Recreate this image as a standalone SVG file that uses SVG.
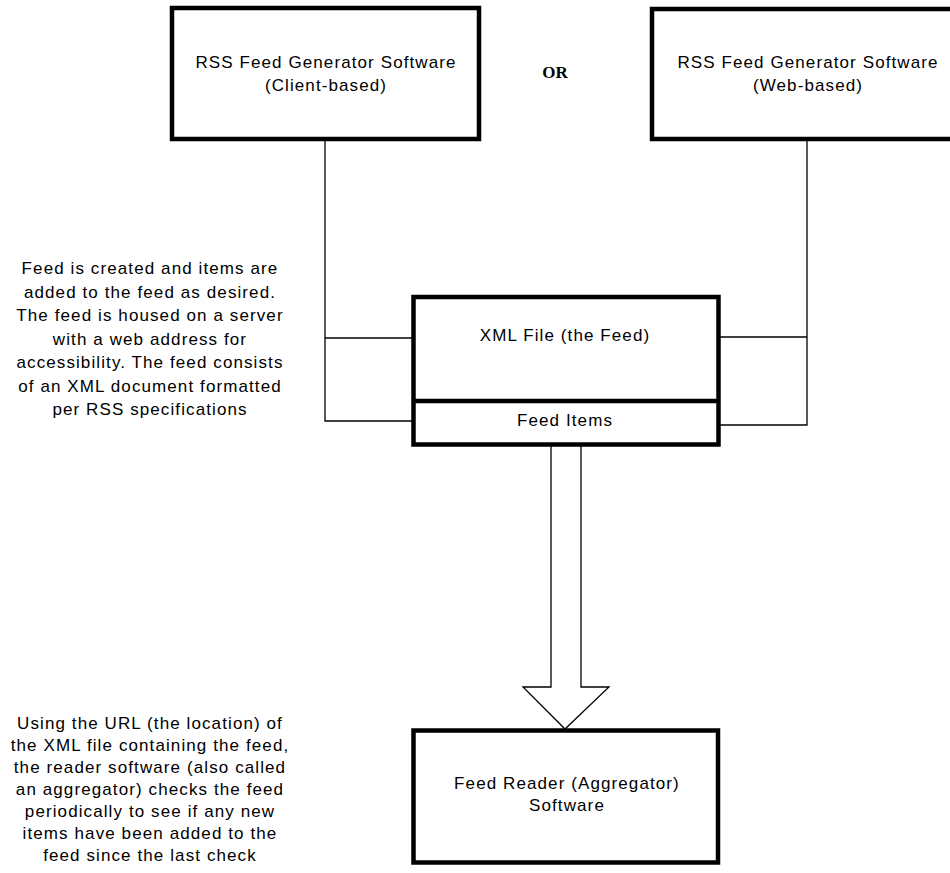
<svg xmlns="http://www.w3.org/2000/svg" width="950" height="873" viewBox="0 0 950 873">
<style>
.box{fill:#fff;stroke:#000;stroke-width:4.5}
.thin{fill:none;stroke:#000;stroke-width:1.3}
.t{font-family:"Liberation Sans",Arial,sans-serif;font-size:17px;letter-spacing:1.1px;fill:#000;text-anchor:middle}
.or{font-family:"Liberation Serif","Times New Roman",serif;font-size:17px;font-weight:bold;fill:#000;text-anchor:middle}
</style>
<rect width="950" height="873" fill="#fff"/>
<g id="connectors">
<polyline class="thin" points="325,140 325,421 413,421"/>
<line class="thin" x1="325" y1="338" x2="413" y2="338"/>
<polyline class="thin" points="807,140 807,425 718,425"/>
<line class="thin" x1="718" y1="337" x2="807" y2="337"/>
<polygon class="thin" style="fill:#fff" points="551,445 551,687 523,687 565,729 609,687 581,687 581,445"/>
</g>
<g id="client">
<rect class="box" x="172" y="8" width="307" height="131"/>
<text class="t" x="326" y="68">RSS Feed Generator Software</text>
<text class="t" x="326" y="91">(Client-based)</text>
</g>
<g id="or">
<text class="or" x="555" y="78">OR</text>
</g>
<g id="web">
<rect class="box" x="652" y="9" width="310" height="130"/>
<text class="t" x="808" y="68">RSS Feed Generator Software</text>
<text class="t" x="808" y="91">(Web-based)</text>
</g>
<g id="xml">
<rect class="box" x="413.5" y="297" width="305" height="147.5"/>
<line class="box" x1="413.5" y1="401" x2="718.5" y2="401"/>
<text class="t" x="565" y="341">XML File (the Feed)</text>
<text class="t" x="565" y="426">Feed Items</text>
</g>
<g id="reader">
<rect class="box" x="413.5" y="730.5" width="304.5" height="132"/>
<text class="t" x="567" y="789">Feed Reader (Aggregator)</text>
<text class="t" x="567" y="811">Software</text>
</g>
<g id="note1">
<text class="t" x="150" y="274">Feed is created and items are</text>
<text class="t" x="150" y="297.5">added to the feed as desired.</text>
<text class="t" x="150" y="321">The feed is housed on a server</text>
<text class="t" x="150" y="344.5">with a web address for</text>
<text class="t" x="150" y="368">accessibility.  The feed consists</text>
<text class="t" x="150" y="391.5">of an XML document formatted</text>
<text class="t" x="150" y="415">per RSS specifications</text>
</g>
<g id="note2">
<text class="t" x="150" y="729">Using the URL (the location) of</text>
<text class="t" x="150" y="751">the XML file containing the feed,</text>
<text class="t" x="150" y="773">the reader software (also called</text>
<text class="t" x="150" y="795">an aggregator) checks the feed</text>
<text class="t" x="150" y="817">periodically to see if any new</text>
<text class="t" x="150" y="839">items have been added to the</text>
<text class="t" x="150" y="861">feed since the last check</text>
</g>
</svg>
